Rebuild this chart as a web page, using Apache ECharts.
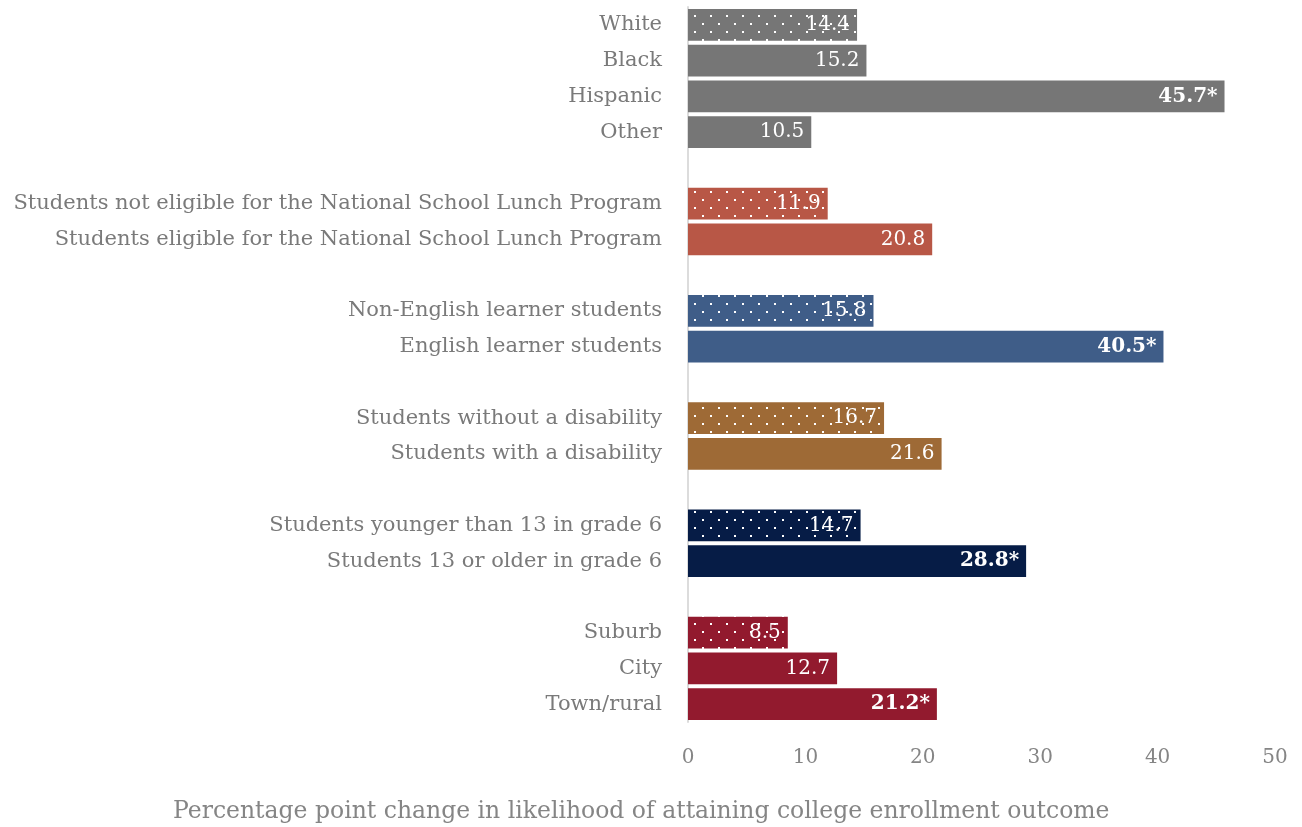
<!DOCTYPE html>
<html>
<head>
<meta charset="utf-8">
<script src="https://cdn.jsdelivr.net/npm/echarts@6/dist/echarts.min.js"></script>
<style>
  html, body { margin: 0; padding: 0; background: #fff; }
  #chart { width: 1302px; height: 827px; }
</style>
</head>
<body>
<div id="chart"></div>
<script>
// 类别（空字符串为分组间隔）
var categories = [
  "White", "Black", "Hispanic", "Other", "",
  "Students not eligible for the National School Lunch Program",
  "Students eligible for the National School Lunch Program", "",
  "Non-English learner students", "English learner students", "",
  "Students without a disability", "Students with a disability", "",
  "Students younger than 13 in grade 6", "Students 13 or older in grade 6", "",
  "Suburb", "City", "Town/rural"
];
var values = [14.4, 15.2, 45.7, 10.5, null, 11.9, 20.8, null, 15.8, 40.5, null,
  16.7, 21.6, null, 14.7, 28.8, null, 8.5, 12.7, 21.2];
var starred = [0, 0, 1, 0, 0, 0, 0, 0, 0, 1, 0, 0, 0, 0, 0, 1, 0, 0, 0, 1];
var dotted = [1, 0, 0, 0, 0, 1, 0, 0, 1, 0, 0, 1, 0, 0, 1, 0, 0, 1, 0, 0];
var groupOf = [0, 0, 0, 0, -1, 1, 1, -1, 2, 2, -1, 3, 3, -1, 4, 4, -1, 5, 5, 5];
var groupColors = ["#767676", "#B85746", "#3F5D88", "#9E6A36", "#061C46", "#921A2E"];
var xTicks = [0, 10, 20, 30, 40, 50];

var FONT = "DejaVu Serif";

// 点状填充
function dotPattern(base) {
  var c = document.createElement("canvas");
  c.width = 16;
  c.height = 16;
  var ctx = c.getContext("2d");
  ctx.fillStyle = base;
  ctx.fillRect(0, 0, 16, 16);
  ctx.fillStyle = "#ffffff";
  ctx.fillRect(14, 7, 2, 2);
  ctx.fillRect(6, 15, 2, 1);
  ctx.fillRect(6, 0, 2, 1);
  return { image: c, repeat: "repeat" };
}

var barData = values.map(function (v, i) {
  if (v === null) return null;
  var col = groupColors[groupOf[i]];
  return {
    value: v,
    itemStyle: { color: dotted[i] ? dotPattern(col) : col },
    label: { fontWeight: starred[i] ? "bold" : "normal" }
  };
});

var chart = echarts.init(document.getElementById("chart"));
chart.setOption({
  animation: false,
  title: {
    text: "Percentage point change in likelihood of attaining college enrollment outcome",
    left: 168,
    top: 795,
    textStyle: { fontFamily: FONT, fontSize: 23.5, fontWeight: "normal", color: "#858585" }
  },
  grid: { left: 688, right: 27, top: 7, bottom: 105, containLabel: false },
  xAxis: {
    type: "value",
    min: xTicks[0],
    max: xTicks[xTicks.length - 1],
    interval: 10,
    axisLine: { show: false },
    axisTick: { show: false },
    splitLine: { show: false },
    axisLabel: { margin: 26, fontFamily: FONT, fontSize: 20, color: "#858585" }
  },
  yAxis: {
    type: "category",
    inverse: true,
    data: categories,
    axisLine: { show: true, lineStyle: { color: "#dcdcdc", width: 2 } },
    axisTick: { show: false },
    axisLabel: { margin: 26, fontFamily: FONT, fontSize: 21, color: "#7a7a7a" }
  },
  series: [{
    type: "bar",
    data: barData,
    barCategoryGap: "11%",
    label: {
      show: true,
      position: "insideRight",
      distance: 7,
      fontFamily: FONT,
      fontSize: 20,
      color: "#ffffff",
      formatter: function (p) {
        return p.value + (starred[p.dataIndex] ? "*" : "");
      }
    }
  }]
});
</script>
</body>
</html>
